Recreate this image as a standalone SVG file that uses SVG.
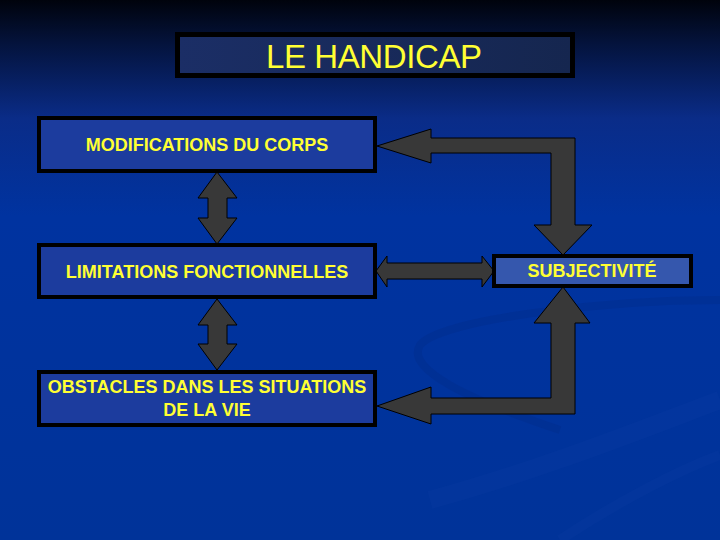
<svg xmlns="http://www.w3.org/2000/svg" width="720" height="540" viewBox="0 0 720 540">
<defs>
<linearGradient id="bg" x1="0" y1="0" x2="0" y2="1">
<stop offset="0" stop-color="#00030c"/>
<stop offset="0.08" stop-color="#04133c"/>
<stop offset="0.22" stop-color="#0a2c88"/>
<stop offset="0.4" stop-color="#0033a0"/>
<stop offset="1" stop-color="#003399"/>
</linearGradient>
<linearGradient id="tb" x1="0" y1="0" x2="1" y2="0">
<stop offset="0" stop-color="#1b2e66"/>
<stop offset="1" stop-color="#15264f"/>
</linearGradient>
<style>
.box{fill:#1c3c9e;stroke:#000;stroke-width:4}
.lbl{font-family:"Liberation Sans",Arial,sans-serif;font-weight:bold;font-size:18px;fill:#ffff33;text-anchor:middle}
.arr{fill:#383838;stroke:#000;stroke-width:1}
</style>
</defs>
<rect x="0" y="0" width="720" height="540" fill="url(#bg)"/>
<g id="swoosh" fill="none">
<path d="M720,300 C600,300 440,320 420,345 C405,370 470,400 560,430" stroke="#002a88" stroke-width="8" opacity="0.35"/>
<path d="M430,500 C540,470 640,430 720,400" stroke="#1a4ab0" stroke-width="18" opacity="0.12"/>
<path d="M560,540 C620,500 680,470 720,455" stroke="#1a4ab0" stroke-width="10" opacity="0.1"/>
</g>
<g id="title">
<rect x="177.5" y="34.5" width="395" height="41" fill="url(#tb)" stroke="#000" stroke-width="5"/>
<text x="374" y="68" font-family="'Liberation Sans',Arial,sans-serif" font-size="33" fill="#ffff33" text-anchor="middle" textLength="216">LE HANDICAP</text>
</g>
<g id="connectors">
<path class="arr" d="M217,172 L237,198 L227,198 L227,218 L237,218 L217,244 L198,218 L208,218 L208,198 L198,198 Z"/>
<path class="arr" d="M217,299 L237,325 L227,325 L227,344 L237,344 L217,370 L198,344 L208,344 L208,325 L198,325 Z"/>
<path class="arr" d="M376,271 L387,256 L387,263 L482,263 L482,256 L494,271 L482,287 L482,279 L387,279 L387,287 Z"/>
<path class="arr" d="M377,146 L431,129 L431,138 L575,138 L575,225 L592,225 L563,255 L534,225 L551,225 L551,153 L431,153 L431,163 Z"/>
<path class="arr" d="M377,406 L431,387 L431,398 L551,398 L551,323 L534,323 L563,287 L590,323 L575,323 L575,414 L431,414 L431,424 Z"/>
</g>
<g id="n1">
<rect class="box" x="39" y="118" width="336" height="53"/>
<text class="lbl" x="207" y="151">MODIFICATIONS DU CORPS</text>
</g>
<g id="n2">
<rect class="box" x="39" y="245" width="336" height="52"/>
<text class="lbl" x="207" y="278">LIMITATIONS FONCTIONNELLES</text>
</g>
<g id="n3">
<rect class="box" x="39" y="372" width="336" height="53"/>
<text class="lbl" x="207" y="393">OBSTACLES DANS LES SITUATIONS</text>
<text class="lbl" x="207" y="416">DE LA VIE</text>
</g>
<g id="n4">
<rect class="box" x="494" y="256" width="197" height="30" style="fill:#3557ad"/>
<text class="lbl" x="592" y="277">SUBJECTIVITÉ</text>
</g>
</svg>
